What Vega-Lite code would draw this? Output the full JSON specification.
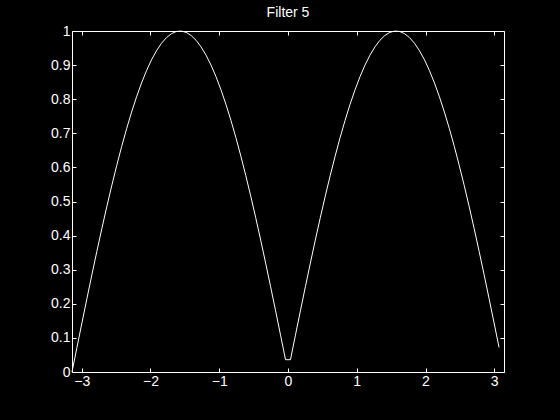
{
 "$schema": "https://vega.github.io/schema/vega-lite/v6.json",
 "width": 432, "height": 341,
 "autosize": {"type": "none"},
 "padding": {"left": 72, "top": 31, "right": 56, "bottom": 48},
 "background": "black",
 "title": {"text": "Filter 5", "color": "white", "font": "Liberation Sans", "fontSize": 14, "fontWeight": "normal", "baseline": "alphabetic", "offset": -7},
 "config": {
  "view": {"stroke": null},
  "axis": {"grid": false, "title": null, "domainColor": "white", "domainWidth": 1, "tickColor": "white", "tickWidth": 1, "tickSize": -4, "labelColor": "white", "labelFont": "Liberation Sans", "labelFontSize": 14, "labelPadding": 6}
 },
 "data": {"values": [
  {"x": -3.14159, "y": 0},
  {"x": -3.06937, "y": 0.07216},
  {"x": -2.99715, "y": 0.14394},
  {"x": -2.92493, "y": 0.21497},
  {"x": -2.85271, "y": 0.28489},
  {"x": -2.78049, "y": 0.35331},
  {"x": -2.70827, "y": 0.41989},
  {"x": -2.63605, "y": 0.48428},
  {"x": -2.56383, "y": 0.54615},
  {"x": -2.49161, "y": 0.60517},
  {"x": -2.41939, "y": 0.66104},
  {"x": -2.34717, "y": 0.71346},
  {"x": -2.27495, "y": 0.76216},
  {"x": -2.20273, "y": 0.80689},
  {"x": -2.13050, "y": 0.84741},
  {"x": -2.05828, "y": 0.88351},
  {"x": -1.98606, "y": 0.91501},
  {"x": -1.91384, "y": 0.94173},
  {"x": -1.84162, "y": 0.96355},
  {"x": -1.76940, "y": 0.98034},
  {"x": -1.69718, "y": 0.99202},
  {"x": -1.62496, "y": 0.99853},
  {"x": -1.55274, "y": 0.99984},
  {"x": -1.48052, "y": 0.99593},
  {"x": -1.40830, "y": 0.98683},
  {"x": -1.33608, "y": 0.97258},
  {"x": -1.26386, "y": 0.95326},
  {"x": -1.19164, "y": 0.92898},
  {"x": -1.11942, "y": 0.89985},
  {"x": -1.04720, "y": 0.86603},
  {"x": -0.97498, "y": 0.82769},
  {"x": -0.90276, "y": 0.78504},
  {"x": -0.83054, "y": 0.73829},
  {"x": -0.75832, "y": 0.68770},
  {"x": -0.68609, "y": 0.63352},
  {"x": -0.61387, "y": 0.57604},
  {"x": -0.54165, "y": 0.51555},
  {"x": -0.46943, "y": 0.45238},
  {"x": -0.39721, "y": 0.38686},
  {"x": -0.32499, "y": 0.31930},
  {"x": -0.25277, "y": 0.25009},
  {"x": -0.18055, "y": 0.17957},
  {"x": -0.10833, "y": 0.10812},
  {"x": -0.03611, "y": 0.03610},
  {"x": 0.03611, "y": 0.03610},
  {"x": 0.10833, "y": 0.10812},
  {"x": 0.18055, "y": 0.17957},
  {"x": 0.25277, "y": 0.25009},
  {"x": 0.32499, "y": 0.31930},
  {"x": 0.39721, "y": 0.38686},
  {"x": 0.46943, "y": 0.45238},
  {"x": 0.54165, "y": 0.51555},
  {"x": 0.61387, "y": 0.57604},
  {"x": 0.68609, "y": 0.63352},
  {"x": 0.75832, "y": 0.68770},
  {"x": 0.83054, "y": 0.73829},
  {"x": 0.90276, "y": 0.78504},
  {"x": 0.97498, "y": 0.82769},
  {"x": 1.04720, "y": 0.86603},
  {"x": 1.11942, "y": 0.89985},
  {"x": 1.19164, "y": 0.92898},
  {"x": 1.26386, "y": 0.95326},
  {"x": 1.33608, "y": 0.97258},
  {"x": 1.40830, "y": 0.98683},
  {"x": 1.48052, "y": 0.99593},
  {"x": 1.55274, "y": 0.99984},
  {"x": 1.62496, "y": 0.99853},
  {"x": 1.69718, "y": 0.99202},
  {"x": 1.76940, "y": 0.98034},
  {"x": 1.84162, "y": 0.96355},
  {"x": 1.91384, "y": 0.94173},
  {"x": 1.98606, "y": 0.91501},
  {"x": 2.05828, "y": 0.88351},
  {"x": 2.13050, "y": 0.84741},
  {"x": 2.20273, "y": 0.80689},
  {"x": 2.27495, "y": 0.76216},
  {"x": 2.34717, "y": 0.71346},
  {"x": 2.41939, "y": 0.66104},
  {"x": 2.49161, "y": 0.60517},
  {"x": 2.56383, "y": 0.54615},
  {"x": 2.63605, "y": 0.48428},
  {"x": 2.70827, "y": 0.41989},
  {"x": 2.78049, "y": 0.35331},
  {"x": 2.85271, "y": 0.28489},
  {"x": 2.92493, "y": 0.21497},
  {"x": 2.99715, "y": 0.14394},
  {"x": 3.06937, "y": 0.07216}
 ]},
 "layer": [
  {
   "mark": {"type": "line", "color": "white", "strokeWidth": 1},
   "encoding": {
    "x": {"field": "x", "type": "quantitative", "scale": {"domain": [-3.14159, 3.14159], "nice": false, "zero": false}, "axis": {"orient": "bottom", "values": [-3, -2, -1, 0, 1, 2, 3], "format": "d"}},
    "y": {"field": "y", "type": "quantitative", "scale": {"domain": [0, 1], "nice": false}, "axis": {"orient": "left", "values": [0, 0.1, 0.2, 0.3, 0.4, 0.5, 0.6, 0.7, 0.8, 0.9, 1], "labelExpr": "datum.value == 0 ? '0' : datum.value == 1 ? '1' : format(datum.value, '.1f')"}}
   }
  },
  {
   "mark": {"type": "line", "opacity": 0},
   "encoding": {
    "x": {"field": "x", "type": "quantitative", "scale": {"domain": [-3.14159, 3.14159], "nice": false, "zero": false}, "axis": {"orient": "top", "values": [-3, -2, -1, 0, 1, 2, 3], "labels": false}},
    "y": {"field": "y", "type": "quantitative", "scale": {"domain": [0, 1], "nice": false}, "axis": {"orient": "right", "values": [0, 0.1, 0.2, 0.3, 0.4, 0.5, 0.6, 0.7, 0.8, 0.9, 1], "labels": false}}
   }
  }
 ],
 "resolve": {"axis": {"x": "independent", "y": "independent"}}
}
